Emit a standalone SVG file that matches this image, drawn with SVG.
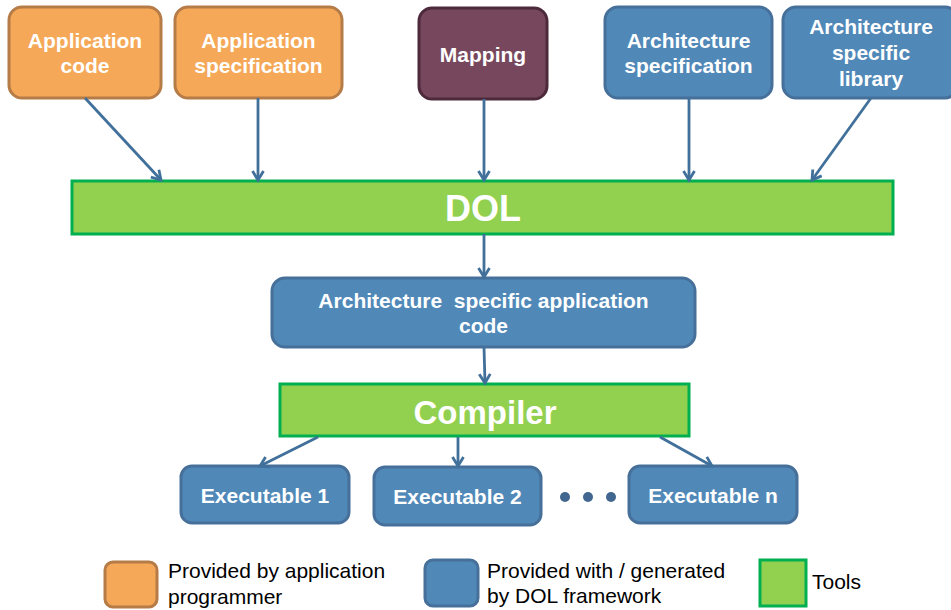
<svg xmlns="http://www.w3.org/2000/svg" width="951" height="610" viewBox="0 0 951 610">
<style>
.orange{fill:#F5A857;stroke:#B67C47;stroke-width:3}
.map{fill:#77485D;stroke:#4D2A3B;stroke-width:3}
.blue{fill:#5088B8;stroke:#46709A;stroke-width:3}
.green{fill:#92D050;stroke:#00B050;stroke-width:3}
.t{font-family:"Liberation Sans",Arial,sans-serif;font-weight:bold;fill:#fff;text-anchor:middle;font-size:21px}
.lg{font-family:"Liberation Sans",Arial,sans-serif;fill:#000;font-size:21px}
.conn line{stroke:#41709B;stroke-width:2.8;fill:none}
</style>
<defs>
<marker id="ah" viewBox="0 0 14 14" refX="11" refY="7" markerWidth="14" markerHeight="14" markerUnits="userSpaceOnUse" orient="auto">
<path d="M2,1.5 L11,7 L2,12.5" fill="none" stroke="#41709B" stroke-width="2.8"/>
</marker>
</defs>
<g id="n_appcode">
<rect class="orange" x="9" y="7" width="152" height="91" rx="13"/>
<text class="t" x="85" y="48">Application</text>
<text class="t" x="85" y="73">code</text>
</g>
<g id="n_appspec">
<rect class="orange" x="175" y="7" width="167" height="91" rx="13"/>
<text class="t" x="258.5" y="48">Application</text>
<text class="t" x="258.5" y="73">specification</text>
</g>
<g id="n_mapping">
<rect class="map" x="419" y="8" width="128" height="91" rx="13"/>
<text class="t" x="483" y="62">Mapping</text>
</g>
<g id="n_archspec">
<rect class="blue" x="605" y="7" width="167" height="91" rx="13"/>
<text class="t" x="688.5" y="48">Architecture</text>
<text class="t" x="688.5" y="73">specification</text>
</g>
<g id="n_archlib">
<rect class="blue" x="783" y="7" width="175" height="91" rx="13"/>
<text class="t" x="871" y="34">Architecture</text>
<text class="t" x="871" y="60">specific</text>
<text class="t" x="871" y="86">library</text>
</g>
<g id="n_dol">
<rect class="green" x="72" y="181" width="821" height="53"/>
<text class="t" x="483" y="221" style="font-size:36px">DOL</text>
</g>
<g id="n_archapp">
<rect class="blue" x="272" y="278" width="423" height="69" rx="13"/>
<text class="t" x="483.5" y="308" xml:space="preserve">Architecture  specific application</text>
<text class="t" x="483.5" y="333">code</text>
</g>
<g id="n_compiler">
<rect class="green" x="280" y="384" width="409" height="52"/>
<text class="t" x="485" y="424" style="font-size:33px">Compiler</text>
</g>
<g id="n_exe1">
<rect class="blue" x="181" y="466" width="168" height="57" rx="11"/>
<text class="t" x="265" y="503">Executable 1</text>
</g>
<g id="n_exe2">
<rect class="blue" x="374" y="467" width="167" height="58" rx="11"/>
<text class="t" x="457.5" y="504">Executable 2</text>
</g>
<g id="n_dots" fill="#41668F">
<circle cx="565" cy="497" r="5"/>
<circle cx="588" cy="497" r="5"/>
<circle cx="611" cy="497" r="5"/>
</g>
<g id="n_exen">
<rect class="blue" x="629" y="466" width="168" height="57" rx="11"/>
<text class="t" x="713" y="503">Executable n</text>
</g>
<g id="connectors" class="conn">
<line x1="85" y1="98" x2="161" y2="180" marker-end="url(#ah)"/>
<line x1="258" y1="98" x2="258" y2="180" marker-end="url(#ah)"/>
<line x1="484" y1="99" x2="484" y2="180" marker-end="url(#ah)"/>
<line x1="689" y1="98" x2="689" y2="180" marker-end="url(#ah)"/>
<line x1="871" y1="98" x2="812" y2="180" marker-end="url(#ah)"/>
<line x1="484" y1="234" x2="484" y2="277" marker-end="url(#ah)"/>
<line x1="484" y1="347" x2="485" y2="383" marker-end="url(#ah)"/>
<line x1="318" y1="437" x2="260" y2="466" marker-end="url(#ah)"/>
<line x1="458" y1="437" x2="458" y2="466" marker-end="url(#ah)"/>
<line x1="660" y1="437" x2="712" y2="466" marker-end="url(#ah)"/>
</g>
<g id="legend">
<rect class="orange" x="105" y="562" width="52" height="45" rx="8"/>
<text class="lg" x="168" y="578">Provided by application</text>
<text class="lg" x="168" y="604">programmer</text>
<rect class="blue" x="425" y="560" width="53" height="46" rx="8"/>
<text class="lg" x="487" y="578">Provided with / generated</text>
<text class="lg" x="487" y="603">by DOL framework</text>
<rect class="green" x="760" y="560" width="46" height="46"/>
<text class="lg" x="812" y="589">Tools</text>
</g>
</svg>
